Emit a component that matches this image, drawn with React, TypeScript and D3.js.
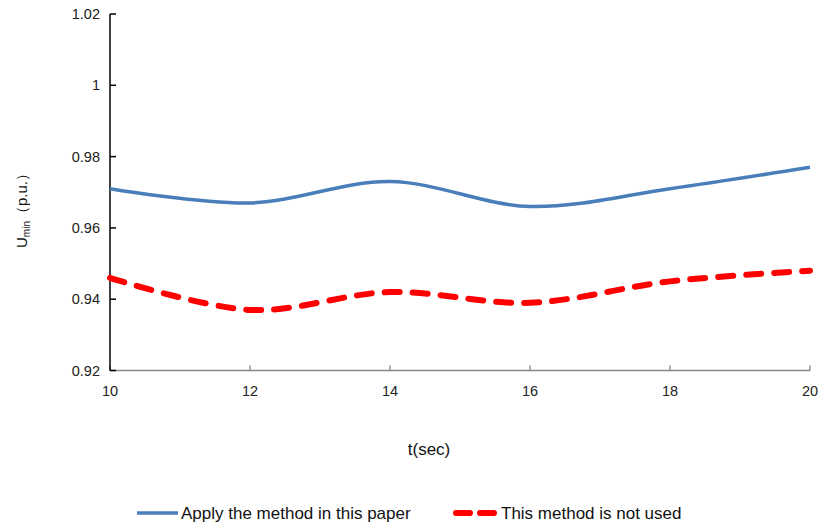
import React from "react";
import * as d3 from "d3";

const times = [10, 12, 14, 16, 18, 20];
const withMethod = [0.971, 0.967, 0.973, 0.966, 0.971, 0.977];
const withoutMethod = [0.946, 0.937, 0.942, 0.939, 0.945, 0.948];
const xTicks = [10, 12, 14, 16, 18, 20];
const yTicks = [0.92, 0.94, 0.96, 0.98, 1, 1.02];
const seriesNames = ["Apply the method in this paper", "This method is not used"];

export default function App() {
  const W = 821, H = 526;
  const x = d3.scaleLinear().domain([10, 20]).range([110, 810]);
  const y = d3.scaleLinear().domain([0.92, 1.02]).range([370.5, 14]);
  const line = d3
    .line<[number, number]>()
    .x((d) => x(d[0]))
    .y((d) => y(d[1]))
    .curve(d3.curveCatmullRom.alpha(0));
  const blue = line(times.map((t, i) => [t, withMethod[i]]) as [number, number][]) || "";
  const red = line(times.map((t, i) => [t, withoutMethod[i]]) as [number, number][]) || "";
  const font = "'Liberation Sans', Arial, sans-serif";
  return (
    <svg
      width={W}
      height={H}
      style={{ position: "absolute", left: 0, top: 0, background: "#fff" }}
      fontFamily={font}
    >
      {/* x axis */}
      <line x1={110} x2={810} y1={y(0.92)} y2={y(0.92)} stroke="#888" strokeWidth={1.3} />
      {xTicks.map((t) => (
        <g key={t}>
          <line x1={x(t)} x2={x(t)} y1={y(0.92)} y2={y(0.92) - 5} stroke="#888" strokeWidth={1.3} />
          <text x={x(t)} y={396} textAnchor="middle" fontSize={14.5} fill="#222">
            {t}
          </text>
        </g>
      ))}
      {/* y axis */}
      <line x1={110} x2={110} y1={y(1.02)} y2={y(0.92)} stroke="#000" strokeWidth={1.5} />
      {yTicks.map((v) => (
        <g key={v}>
          <line x1={110} x2={116} y1={y(v)} y2={y(v)} stroke="#000" strokeWidth={1.5} />
          <text x={100} y={y(v) + 5} textAnchor="end" fontSize={14.5} fill="#222">
            {String(v)}
          </text>
        </g>
      ))}
      {/* series */}
      <path d={blue} fill="none" stroke="#4a7ebb" strokeWidth={3.5} />
      <path
        d={red}
        fill="none"
        stroke="#ff0000"
        strokeWidth={6}
        strokeDasharray="15 13"
        strokeLinecap="round"
      />
      {/* axis titles */}
      <text x={429} y={455} textAnchor="middle" fontSize={17} fill="#111">
        t(sec)
      </text>
      <text
        transform="translate(27,207) rotate(-90)"
        textAnchor="middle"
        fontSize={15}
        fill="#111"
      >
        U
        <tspan fontSize={10} dy={3}>min</tspan>
        <tspan dy={-3}>（p.u.）</tspan>
      </text>
      {/* legend */}
      <line x1={137} x2={178} y1={513} y2={513} stroke="#4a7ebb" strokeWidth={3.5} />
      <text x={181} y={519} fontSize={17} fill="#111">
        {seriesNames[0]}
      </text>
      <line
        x1={456}
        x2={494}
        y1={513}
        y2={513}
        stroke="#ff0000"
        strokeWidth={6}
        strokeDasharray="14 10"
        strokeLinecap="round"
      />
      <text x={501} y={519} fontSize={17} fill="#111">
        {seriesNames[1]}
      </text>
    </svg>
  );
}
